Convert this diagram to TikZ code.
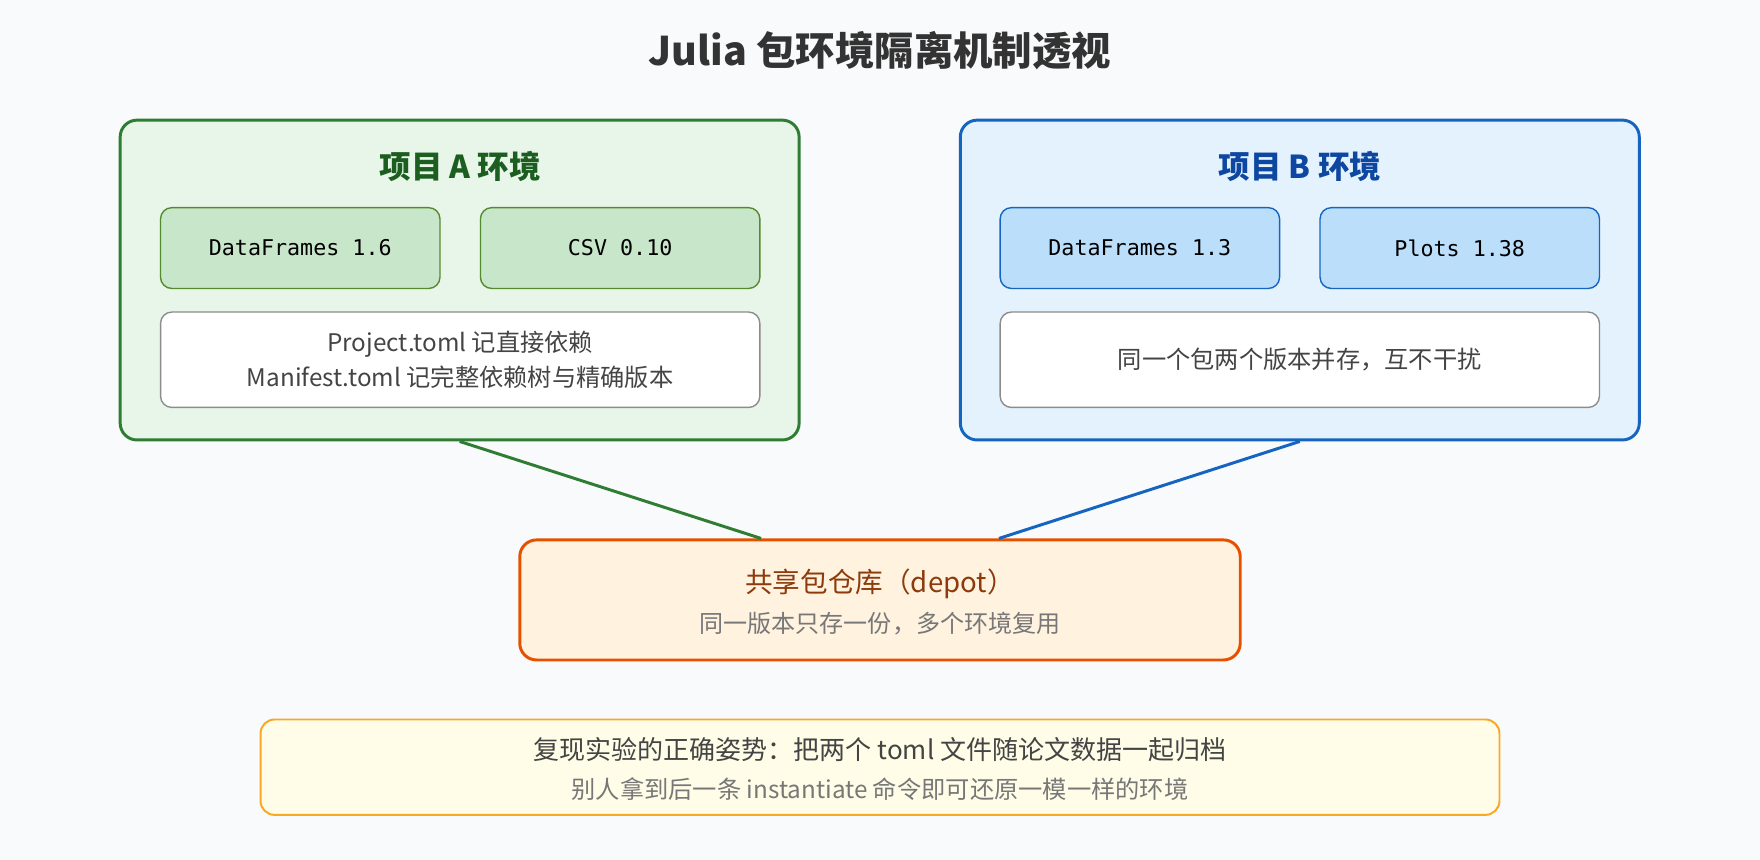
\documentclass[tikz,border=0pt]{standalone}
\usepackage{fontspec}
\setmainfont{Noto Sans CJK SC}
\newfontfamily\codefont{DejaVu Sans Mono}
\usetikzlibrary{positioning}
\definecolor{bgc}{HTML}{F8FAFC}
\definecolor{grn}{HTML}{2E7D32}
\definecolor{grnd}{HTML}{1B5E20}
\definecolor{grnf}{HTML}{E8F5E9}
\definecolor{pkga}{HTML}{C8E6C9}
\definecolor{pkgab}{HTML}{558B2F}
\definecolor{blu}{HTML}{1565C0}
\definecolor{blud}{HTML}{0D47A1}
\definecolor{bluf}{HTML}{E3F2FD}
\definecolor{pkgb}{HTML}{BBDEFB}
\definecolor{org}{HTML}{E65100}
\definecolor{orgf}{HTML}{FFF3E0}
\definecolor{orgt}{HTML}{8D3A0C}
\definecolor{ylw}{HTML}{F9A825}
\definecolor{ylwf}{HTML}{FFFDE7}
\definecolor{txt}{HTML}{444444}
\definecolor{sub}{HTML}{777777}

\begin{document}
\begin{tikzpicture}[x=0.02cm,y=-0.02cm]
	\tikzset{
		env/.style={draw, line width=1.5pt, rounded corners=0.3cm,
			minimum width=12.1cm, minimum height=5.7cm},
		pkg/.style={draw, line width=0.7pt, rounded corners=0.2cm,
			minimum width=4.98cm, minimum height=1.44cm,
			font=\codefont\fontsize{11}{13}\selectfont},
		note/.style={draw=black!45, fill=white, line width=0.7pt, rounded corners=0.2cm,
			minimum width=10.68cm, minimum height=1.7cm, align=center,
			text=txt, font=\fontsize{12.3}{18}\selectfont},
		head/.style={font=\bfseries\fontsize{16}{18}\selectfont}
	}

	\fill[bgc] (0,0) rectangle (1568,766);
	\node[font=\bfseries\fontsize{20}{24}\selectfont, text=black!80] (title) at (784,45) {Julia 包环境隔离机制透视};

	% project A
	\node[env, draw=grn, fill=grnf] (envA) at (409.5,249.5) {};
	\node[head, text=grnd] (headA) at (410,148) {项目 A 环境};
	\node[pkg, draw=pkgab, fill=pkga] (dfA) at (267.5,221) {DataFrames 1.6};
	\node[pkg, draw=pkgab, fill=pkga] (csvA) at (552.5,221) {CSV 0.10};
	\node[note] (noteA) at (410,320.5) {Project.toml 记直接依赖\\Manifest.toml 记完整依赖树与精确版本};

	% project B
	\node[env, draw=blu, fill=bluf] (envB) at (1158,249.5) {};
	\node[head, text=blud] (headB) at (1158,148) {项目 B 环境};
	\node[pkg, draw=blu, fill=pkgb] (dfB) at (1015.5,221) {DataFrames 1.3};
	\node[pkg, draw=blu, fill=pkgb] (plB) at (1300.5,221) {Plots 1.38};
	\node[note] (noteB) at (1158,320.5) {同一个包两个版本并存，互不干扰};

	% depot
	\node[draw=org, fill=orgf, line width=1.5pt, rounded corners=0.3cm,
		minimum width=12.84cm, minimum height=2.14cm] (depot) at (784,534.5) {};
	\node[text=orgt, font=\fontsize{14}{16}\selectfont] (depotT) at (784,520) {共享包仓库（depot）};
	\node[text=sub, font=\fontsize{12.2}{14}\selectfont] (depotS) at (784,556) {同一版本只存一份，多个环境复用};

	\draw[grn, line width=1.5pt] (envA.south) -- ([xshift=-2.12cm]depot.north);
	\draw[blu, line width=1.5pt] (envB.south) -- ([xshift=2.12cm]depot.north);

	% bottom tip
	\node[draw=ylw, fill=ylwf, line width=1pt, rounded corners=0.25cm,
		minimum width=22.08cm, minimum height=1.7cm] (tip) at (784,683.5) {};
	\node[text=txt, font=\fontsize{13.2}{15}\selectfont] (tipT) at (784,668) {复现实验的正确姿势：把两个 toml 文件随论文数据一起归档};
	\node[text=sub, font=\fontsize{12.3}{14}\selectfont] (tipS) at (784,703) {别人拿到后一条 instantiate 命令即可还原一模一样的环境};
\end{tikzpicture}
\end{document}
